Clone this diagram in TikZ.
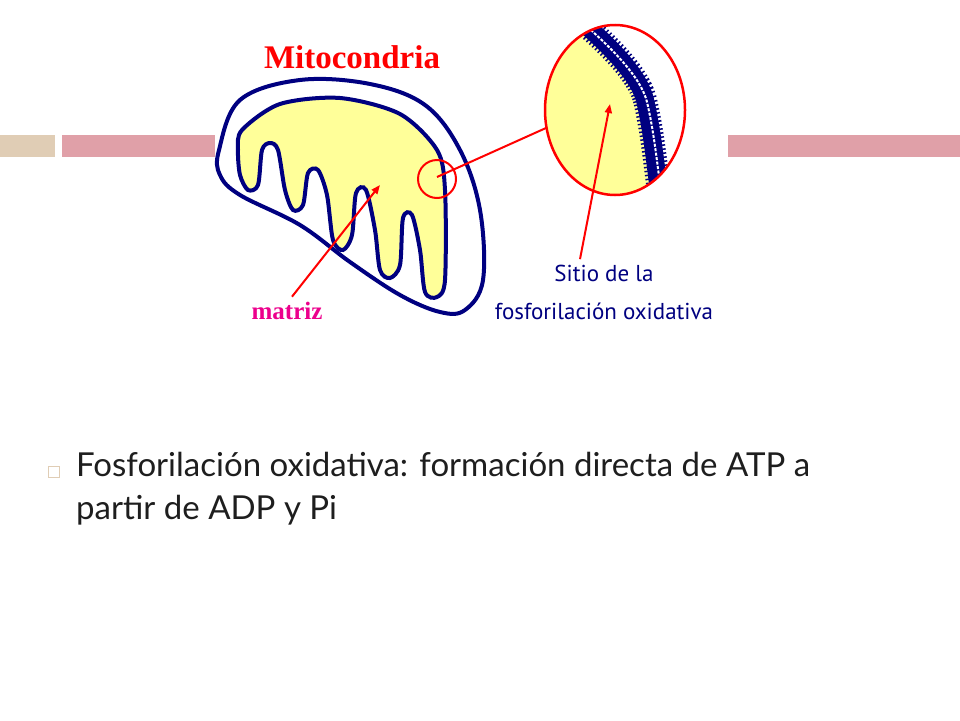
\documentclass[tikz,border=0pt]{standalone}
\usepackage{fontspec}
\setmainfont{Lato}
\newfontfamily\labelfont{PT Sans}
\newfontfamily\titlefont{Liberation Serif}
\usetikzlibrary{arrows.meta}
\definecolor{navy}{RGB}{0,0,128}
\definecolor{matrixyellow}{RGB}{255,255,153}
\definecolor{barpink}{RGB}{224,160,168}
\definecolor{barbeige}{RGB}{224,205,181}
\definecolor{bodytext}{RGB}{30,30,30}
\begin{document}
\begin{tikzpicture}[x=1pt,y=-1pt,
    membrane/.style={draw=navy,line width=4},
    pointer/.style={red,line width=2,-{Triangle[length=9,width=7]}},
    bar/.style={fill=#1,draw=none}]
  \useasboundingbox (0,0) rectangle (960,720);
  % header bars
  \fill[bar=barbeige] (0,135) rectangle (55,157);
  \fill[bar=barpink] (62,135) rectangle (215,157);
  \fill[bar=barpink] (728,135) rectangle (960,157);
  % outer membrane
  \draw[membrane,fill=white] plot[smooth cycle,tension=0.6] coordinates {
    (219,150) (240,100) (300,80) (370,84) (425,105) (460,150) (480,210)
    (483,280) (465,310) (440,312) (400,295) (350,262) (300,225) (240,195) (220,175)};
  % inner membrane with cristae
  \draw[membrane,fill=matrixyellow] plot[smooth cycle,tension=0.5] coordinates {
    (242,130) (280,104) (340,98) (400,114) (437,150) (445,190) (445,280)
    (437,297) (425,292) (420,250) (412,215) (403,218) (400,265) (390,278) (380,270)
    (375,230) (366,190) (356,193) (352,235) (343,250) (333,240) (327,195) (318,170)
    (308,173) (303,205) (293,210) (285,190) (278,150) (270,143) (262,150) (258,185)
    (248,190) (240,175) (238,150)};
  % zoom detail
  \draw[red,line width=2] (437,179) circle[radius=19];
  \coordinate (zoomA) at (437,177);
  \coordinate (zoomB) at (546,128);
  \draw[red,line width=2] (zoomA) -- (zoomB);
  \begin{scope}
    \clip (615,110) ellipse[x radius=70,y radius=85];
    \fill[matrixyellow] (540,20) rectangle (700,200);
    \fill[white] (575,20) .. controls (620,60) and (640,80) .. (650,100)
      .. controls (660,130) and (665,160) .. (670,200) -- (700,200) -- (700,20) -- cycle;
    \draw[navy,line width=18] (582,22) .. controls (620,55) and (640,80) .. (645,100)
      .. controls (652,130) and (655,160) .. (660,200);
    \draw[navy,line width=24,dash pattern=on 1.5 off 2.5] (582,22) .. controls (620,55) and (640,80) .. (645,100)
      .. controls (652,130) and (655,160) .. (660,200);
    \draw[white,line width=2,dash pattern=on 3 off 1.5] (584,24) .. controls (622,57) and (642,82) .. (647,102)
      .. controls (654,132) and (657,162) .. (662,200);
  \end{scope}
  \draw[red,line width=2.5] (615,110) ellipse[x radius=70,y radius=85];
  % labels
  \node[text=red,font=\titlefont\bfseries\fontsize{33}{36}\selectfont] (title) at (352,57) {Mitocondria};
  \node[text=magenta,font=\titlefont\bfseries\fontsize{25}{28}\selectfont] (matrizlbl) at (287,311) {matriz};
  \node[text=navy,font=\labelfont\fontsize{23}{38}\selectfont,align=center] (sitelbl) at (604,292) {Sitio de la\\fosforilación oxidativa};
  \coordinate (matrizTip) at (380,185);
  \coordinate (siteTip) at (610,104);
  \draw[pointer] (matrizlbl.north) ++(5,-2) -- (matrizTip);
  \draw[pointer] (sitelbl.north) ++(-24,-2) -- (siteTip);
  % bullet text
  \draw[barbeige,line width=1] (48,466) rectangle (59,477);
  \node[anchor=north west,text=bodytext,font=\fontsize{33}{43}\selectfont,align=left,inner sep=0] (bullet) at (76,452)
    {Fosforilación oxidativa: formación directa de ATP a\\partir de ADP y Pi};
\end{tikzpicture}
\end{document}
